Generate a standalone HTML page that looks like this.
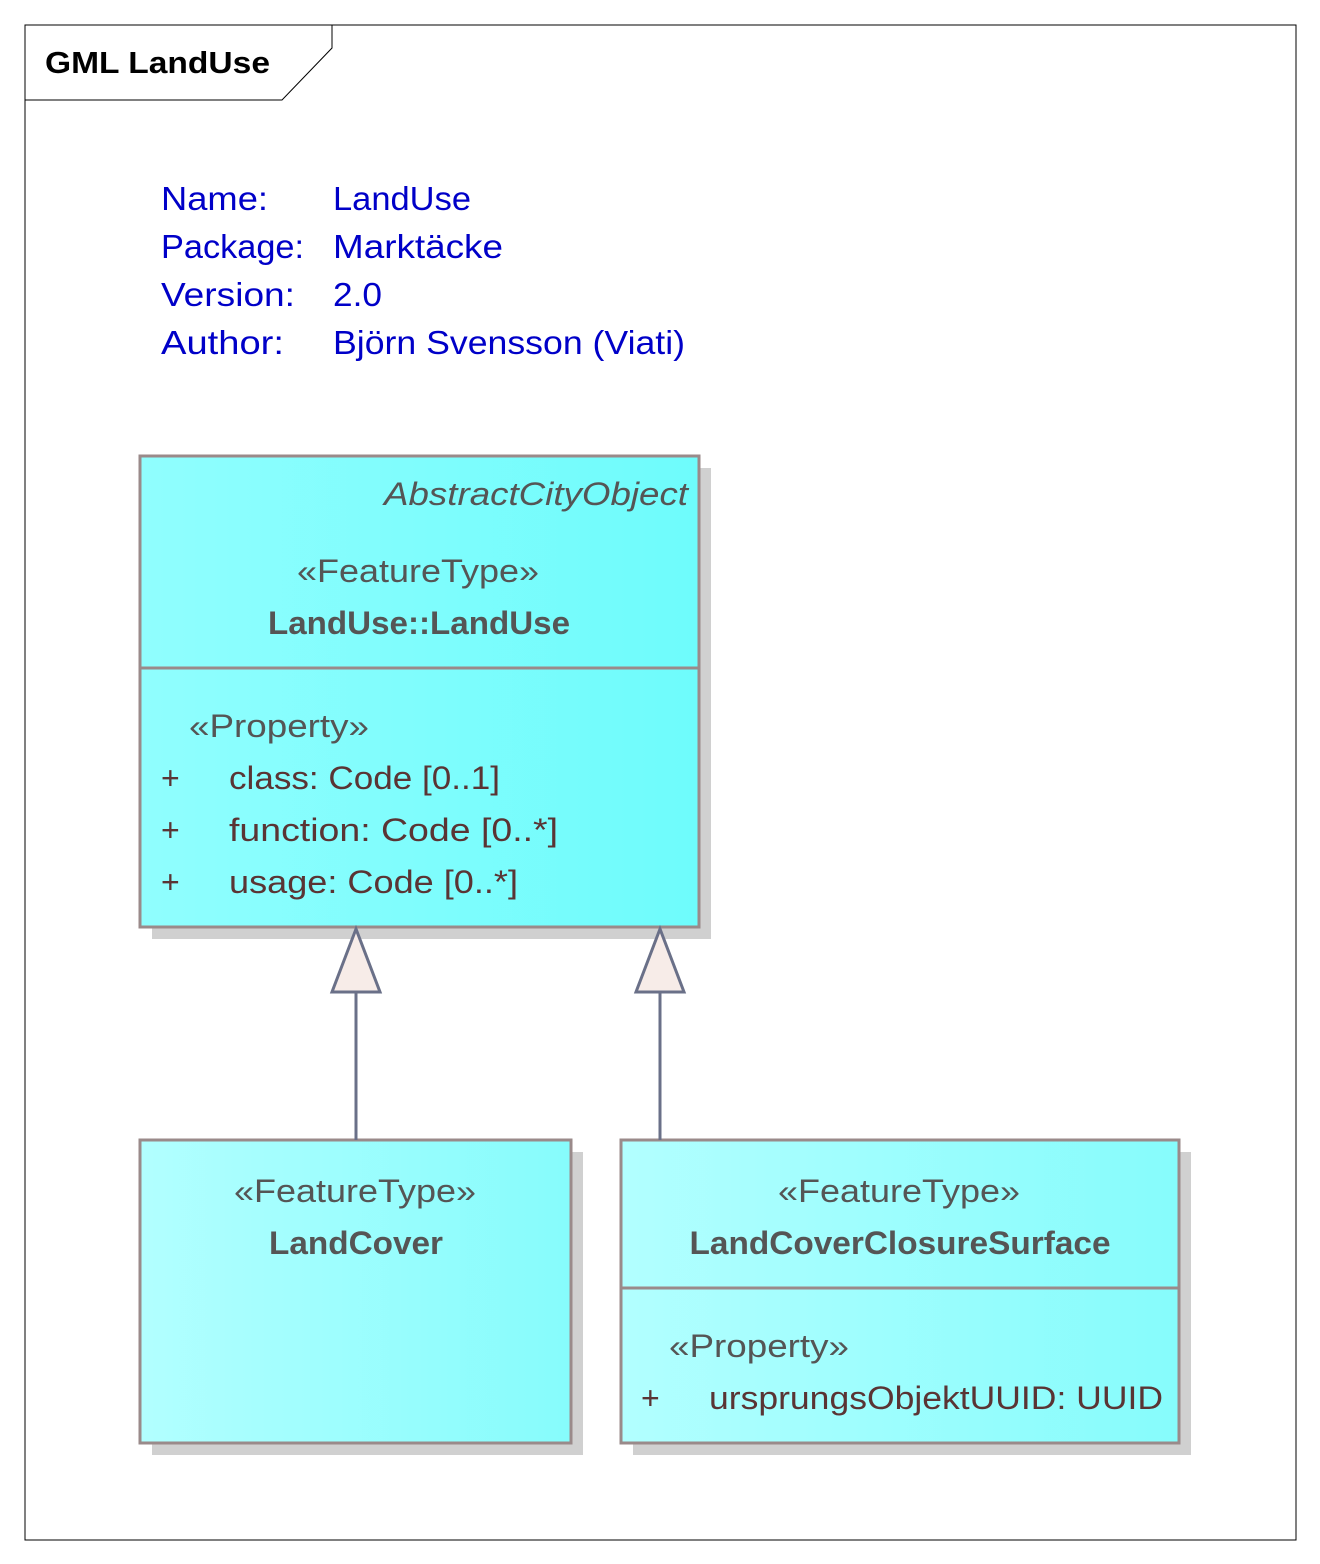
<!DOCTYPE html>
<html><head><meta charset="utf-8"><style>
html,body{margin:0;padding:0;background:#fff;}
svg{display:block;}
text{font-family:"Liberation Sans",sans-serif;}
</style></head><body>
<svg width="1320" height="1564" viewBox="0 0 1320 1564" xmlns="http://www.w3.org/2000/svg">
<defs>
<linearGradient id="g1" x1="0" x2="1" y1="0" y2="0"><stop offset="0" stop-color="#90fefe"/><stop offset="1" stop-color="#6efcfc"/></linearGradient>
<linearGradient id="g2" x1="0" x2="1" y1="0" y2="0"><stop offset="0" stop-color="#b2ffff"/><stop offset="1" stop-color="#86fcfc"/></linearGradient>
</defs>
<rect x="25" y="25" width="1271" height="1515" fill="#fff" stroke="#000" stroke-width="1"/>
<polygon points="25,25 332,25 332,48 282,100 25,100" fill="#fff" stroke="#000" stroke-width="1"/>
<text x="45" y="73" font-size="31" font-weight="bold" fill="#000" textLength="225" lengthAdjust="spacingAndGlyphs">GML LandUse</text>

<g font-size="33" fill="#0000c8" lengthAdjust="spacingAndGlyphs">
<text x="161" y="210" textLength="107" lengthAdjust="spacingAndGlyphs">Name:</text><text x="333" y="210" textLength="138" lengthAdjust="spacingAndGlyphs">LandUse</text>
<text x="161" y="258" textLength="143" lengthAdjust="spacingAndGlyphs">Package:</text><text x="333" y="258" textLength="170" lengthAdjust="spacingAndGlyphs">Marktäcke</text>
<text x="161" y="306" textLength="134" lengthAdjust="spacingAndGlyphs">Version:</text><text x="333" y="306" textLength="49" lengthAdjust="spacingAndGlyphs">2.0</text>
<text x="161" y="354" textLength="123" lengthAdjust="spacingAndGlyphs">Author:</text><text x="333" y="354" textLength="352" lengthAdjust="spacingAndGlyphs">Björn Svensson (Viati)</text>
</g>

<!-- LandUse -->
<rect x="152" y="468" width="559" height="471" fill="#d0d0d0"/>
<rect x="140" y="456" width="559" height="471" fill="url(#g1)" stroke="#9a8a8a" stroke-width="3"/>
<line x1="140" y1="668" x2="699" y2="668" stroke="#9a8a8a" stroke-width="3"/>
<g font-size="32" fill="#555">
<text x="688" y="505" text-anchor="end" font-style="italic" textLength="304" lengthAdjust="spacingAndGlyphs">AbstractCityObject</text>
<text x="297" y="582" textLength="242" lengthAdjust="spacingAndGlyphs">«FeatureType»</text>
<text x="419" y="634" text-anchor="middle" font-weight="bold" textLength="302" lengthAdjust="spacingAndGlyphs">LandUse::LandUse</text>
<text x="189" y="737" textLength="180" lengthAdjust="spacingAndGlyphs">«Property»</text>
</g>
<g font-size="32" fill="#5a3434">
<text x="161" y="789">+</text><text x="229" y="789" textLength="271" lengthAdjust="spacingAndGlyphs">class: Code [0..1]</text>
<text x="161" y="841">+</text><text x="229" y="841" textLength="329" lengthAdjust="spacingAndGlyphs">function: Code [0..*]</text>
<text x="161" y="893">+</text><text x="229" y="893" textLength="289" lengthAdjust="spacingAndGlyphs">usage: Code [0..*]</text>
</g>

<!-- LandCover -->
<rect x="152" y="1152" width="431" height="303" fill="#d0d0d0"/>
<rect x="140" y="1140" width="431" height="303" fill="url(#g2)" stroke="#9a8a8a" stroke-width="3"/>
<g font-size="32" fill="#555">
<text x="234" y="1202" textLength="242" lengthAdjust="spacingAndGlyphs">«FeatureType»</text>
<text x="356" y="1254" text-anchor="middle" font-weight="bold" textLength="174" lengthAdjust="spacingAndGlyphs">LandCover</text>
</g>

<!-- LandCoverClosureSurface -->
<rect x="633" y="1152" width="558" height="303" fill="#d0d0d0"/>
<rect x="621" y="1140" width="558" height="303" fill="url(#g2)" stroke="#9a8a8a" stroke-width="3"/>
<line x1="621" y1="1288" x2="1179" y2="1288" stroke="#9a8a8a" stroke-width="3"/>
<g font-size="32" fill="#555">
<text x="778" y="1202" textLength="242" lengthAdjust="spacingAndGlyphs">«FeatureType»</text>
<text x="900" y="1254" text-anchor="middle" font-weight="bold" textLength="421" lengthAdjust="spacingAndGlyphs">LandCoverClosureSurface</text>
<text x="669" y="1357" textLength="180" lengthAdjust="spacingAndGlyphs">«Property»</text>
</g>
<g font-size="32" fill="#5a3434">
<text x="641" y="1409">+</text><text x="709" y="1409" textLength="454" lengthAdjust="spacingAndGlyphs">ursprungsObjektUUID: UUID</text>
</g>

<!-- generalizations -->
<g stroke="#6a7088" stroke-width="3" fill="#f7ece8">
<line x1="356" y1="992" x2="356" y2="1140"/>
<polygon points="356,929 332,992 380,992"/>
<line x1="660" y1="992" x2="660" y2="1140"/>
<polygon points="660,929 636,992 684,992"/>
</g>
</svg>
</body></html>
